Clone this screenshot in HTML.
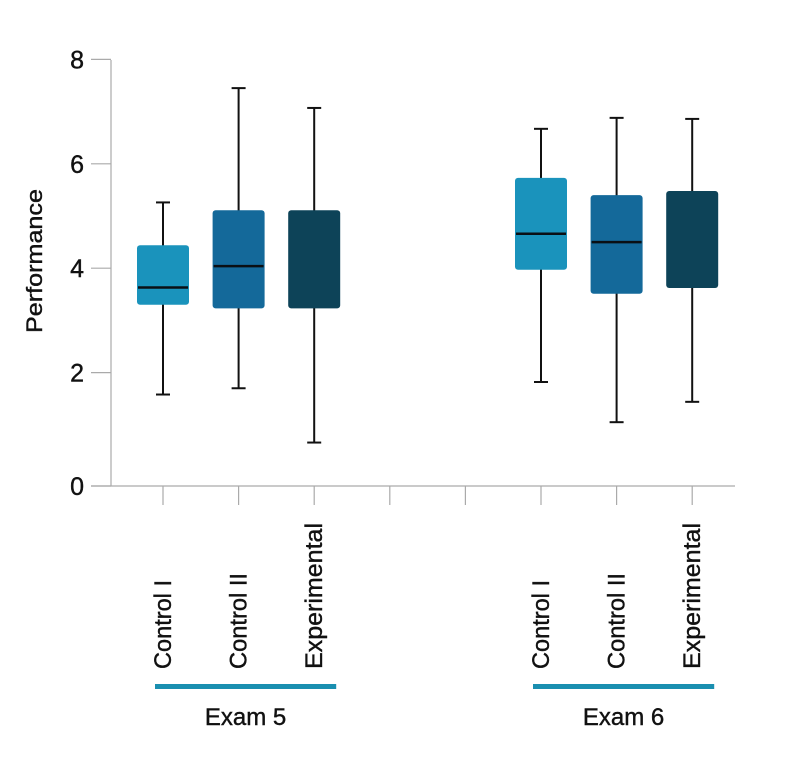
<!DOCTYPE html>
<html><head><meta charset="utf-8"><style>
body{margin:0;background:#fff;}
svg text{font-family:"Liberation Sans",sans-serif;fill:#111;stroke:#111;stroke-width:0.4;}
</style></head><body>
<svg id="chart" width="800" height="769" viewBox="0 0 800 769" xmlns="http://www.w3.org/2000/svg">
<g id="axes"></g>
<g id="boxes"></g>
<g id="labels"></g>
</svg>
<script>
const categories = ["Control I","Control II","Experimental","Control I","Control II","Experimental"];
const slots = [0,1,2,5,6,7];
const groups = ["Exam 5","Exam 6"];
const whiskerHigh = [5.26,7.45,7.07,6.67,6.88,6.86];
const q3 = [4.44,5.11,5.11,5.73,5.40,5.48];
const medians = [3.63,4.04,null,4.66,4.50,null];
const q1 = [3.30,3.23,3.23,3.97,3.51,3.62];
const whiskerLow = [1.58,1.70,0.66,1.82,1.05,1.44];
const yTicks = [0,2,4,6,8];
const colors = ["#1a93bc","#14699a","#0d4358","#1a93bc","#14699a","#0d4358"];

const NS="http://www.w3.org/2000/svg";
function y(v){return 477-52.2*v;}
function x(s){return 163+75.6*s;}
function mk(tag,attrs,parent){const e=document.createElementNS(NS,tag);for(const k in attrs)e.setAttribute(k,attrs[k]);parent.appendChild(e);return e;}
const axes=document.getElementById('axes'),boxes=document.getElementById('boxes'),labels=document.getElementById('labels');

let l=mk('line',{x1:111,y1:60,x2:111,y2:486,stroke:'#aaa','stroke-width':1.2},axes);


l=mk('line',{x1:91,y1:486,x2:735,y2:486,stroke:'#aaa','stroke-width':1.2},axes);


yTicks.forEach(t=>{
  const yy=t===0?486:y(t);
  const tk=mk('line',{x1:91,y1:yy,x2:111,y2:yy,stroke:'#aaa','stroke-width':1.2},axes);
  
  
  const tx=mk('text',{x:84,y:yy+9,'text-anchor':'end','font-size':25},axes);
  
  
  tx.textContent=t;
});
for(let s=0;s<8;s++){
  const tk=mk('line',{x1:x(s),y1:486,x2:x(s),y2:505,stroke:'#aaa','stroke-width':1.2},axes);
  
  
}
const yt=mk('text',{x:0,y:0,transform:'translate(42,261) rotate(-90)','text-anchor':'middle','font-size':22,textLength:144,lengthAdjust:'spacingAndGlyphs'},axes);


yt.textContent='Performance';

categories.forEach((c,i)=>{
  const cx=x(slots[i]);
  const g=mk('g',{},boxes);
  
  
  mk('line',{x1:cx,y1:y(whiskerHigh[i]),x2:cx,y2:y(whiskerLow[i]),stroke:'#111','stroke-width':2},g);
  mk('line',{x1:cx-7,y1:y(whiskerHigh[i]),x2:cx+7,y2:y(whiskerHigh[i]),stroke:'#111','stroke-width':2},g);
  mk('line',{x1:cx-7,y1:y(whiskerLow[i]),x2:cx+7,y2:y(whiskerLow[i]),stroke:'#111','stroke-width':2},g);
  mk('rect',{x:cx-26,y:y(q3[i]),width:52,height:y(q1[i])-y(q3[i]),fill:colors[i],rx:3},g);
  if(medians[i]!==null) mk('line',{x1:cx-25,y1:y(medians[i]),x2:cx+25,y2:y(medians[i]),stroke:'#0a0f14','stroke-width':2.5},g);
  const t=mk('text',{x:0,y:0,transform:'translate('+(cx+8)+',669) rotate(-90)','font-size':24},labels);
  
  
  t.textContent=c;
  t.setAttribute('lengthAdjust','spacingAndGlyphs');
  t.setAttribute('textLength', c==='Experimental'?146:(c==='Control I'?89:96));
});
groups.forEach((gname,gi)=>{
  const x0=x(slots[gi*3])-8,x1=x(slots[gi*3+2])+22;
  const b=mk('rect',{x:x0,y:684,width:x1-x0,height:5,fill:'#1a8fb0'},labels);
  
  
  const t=mk('text',{x:(x0+x1)/2,y:725,'text-anchor':'middle','font-size':24},labels);
  
  
  t.textContent=gname;
});
</script>
</body></html>
